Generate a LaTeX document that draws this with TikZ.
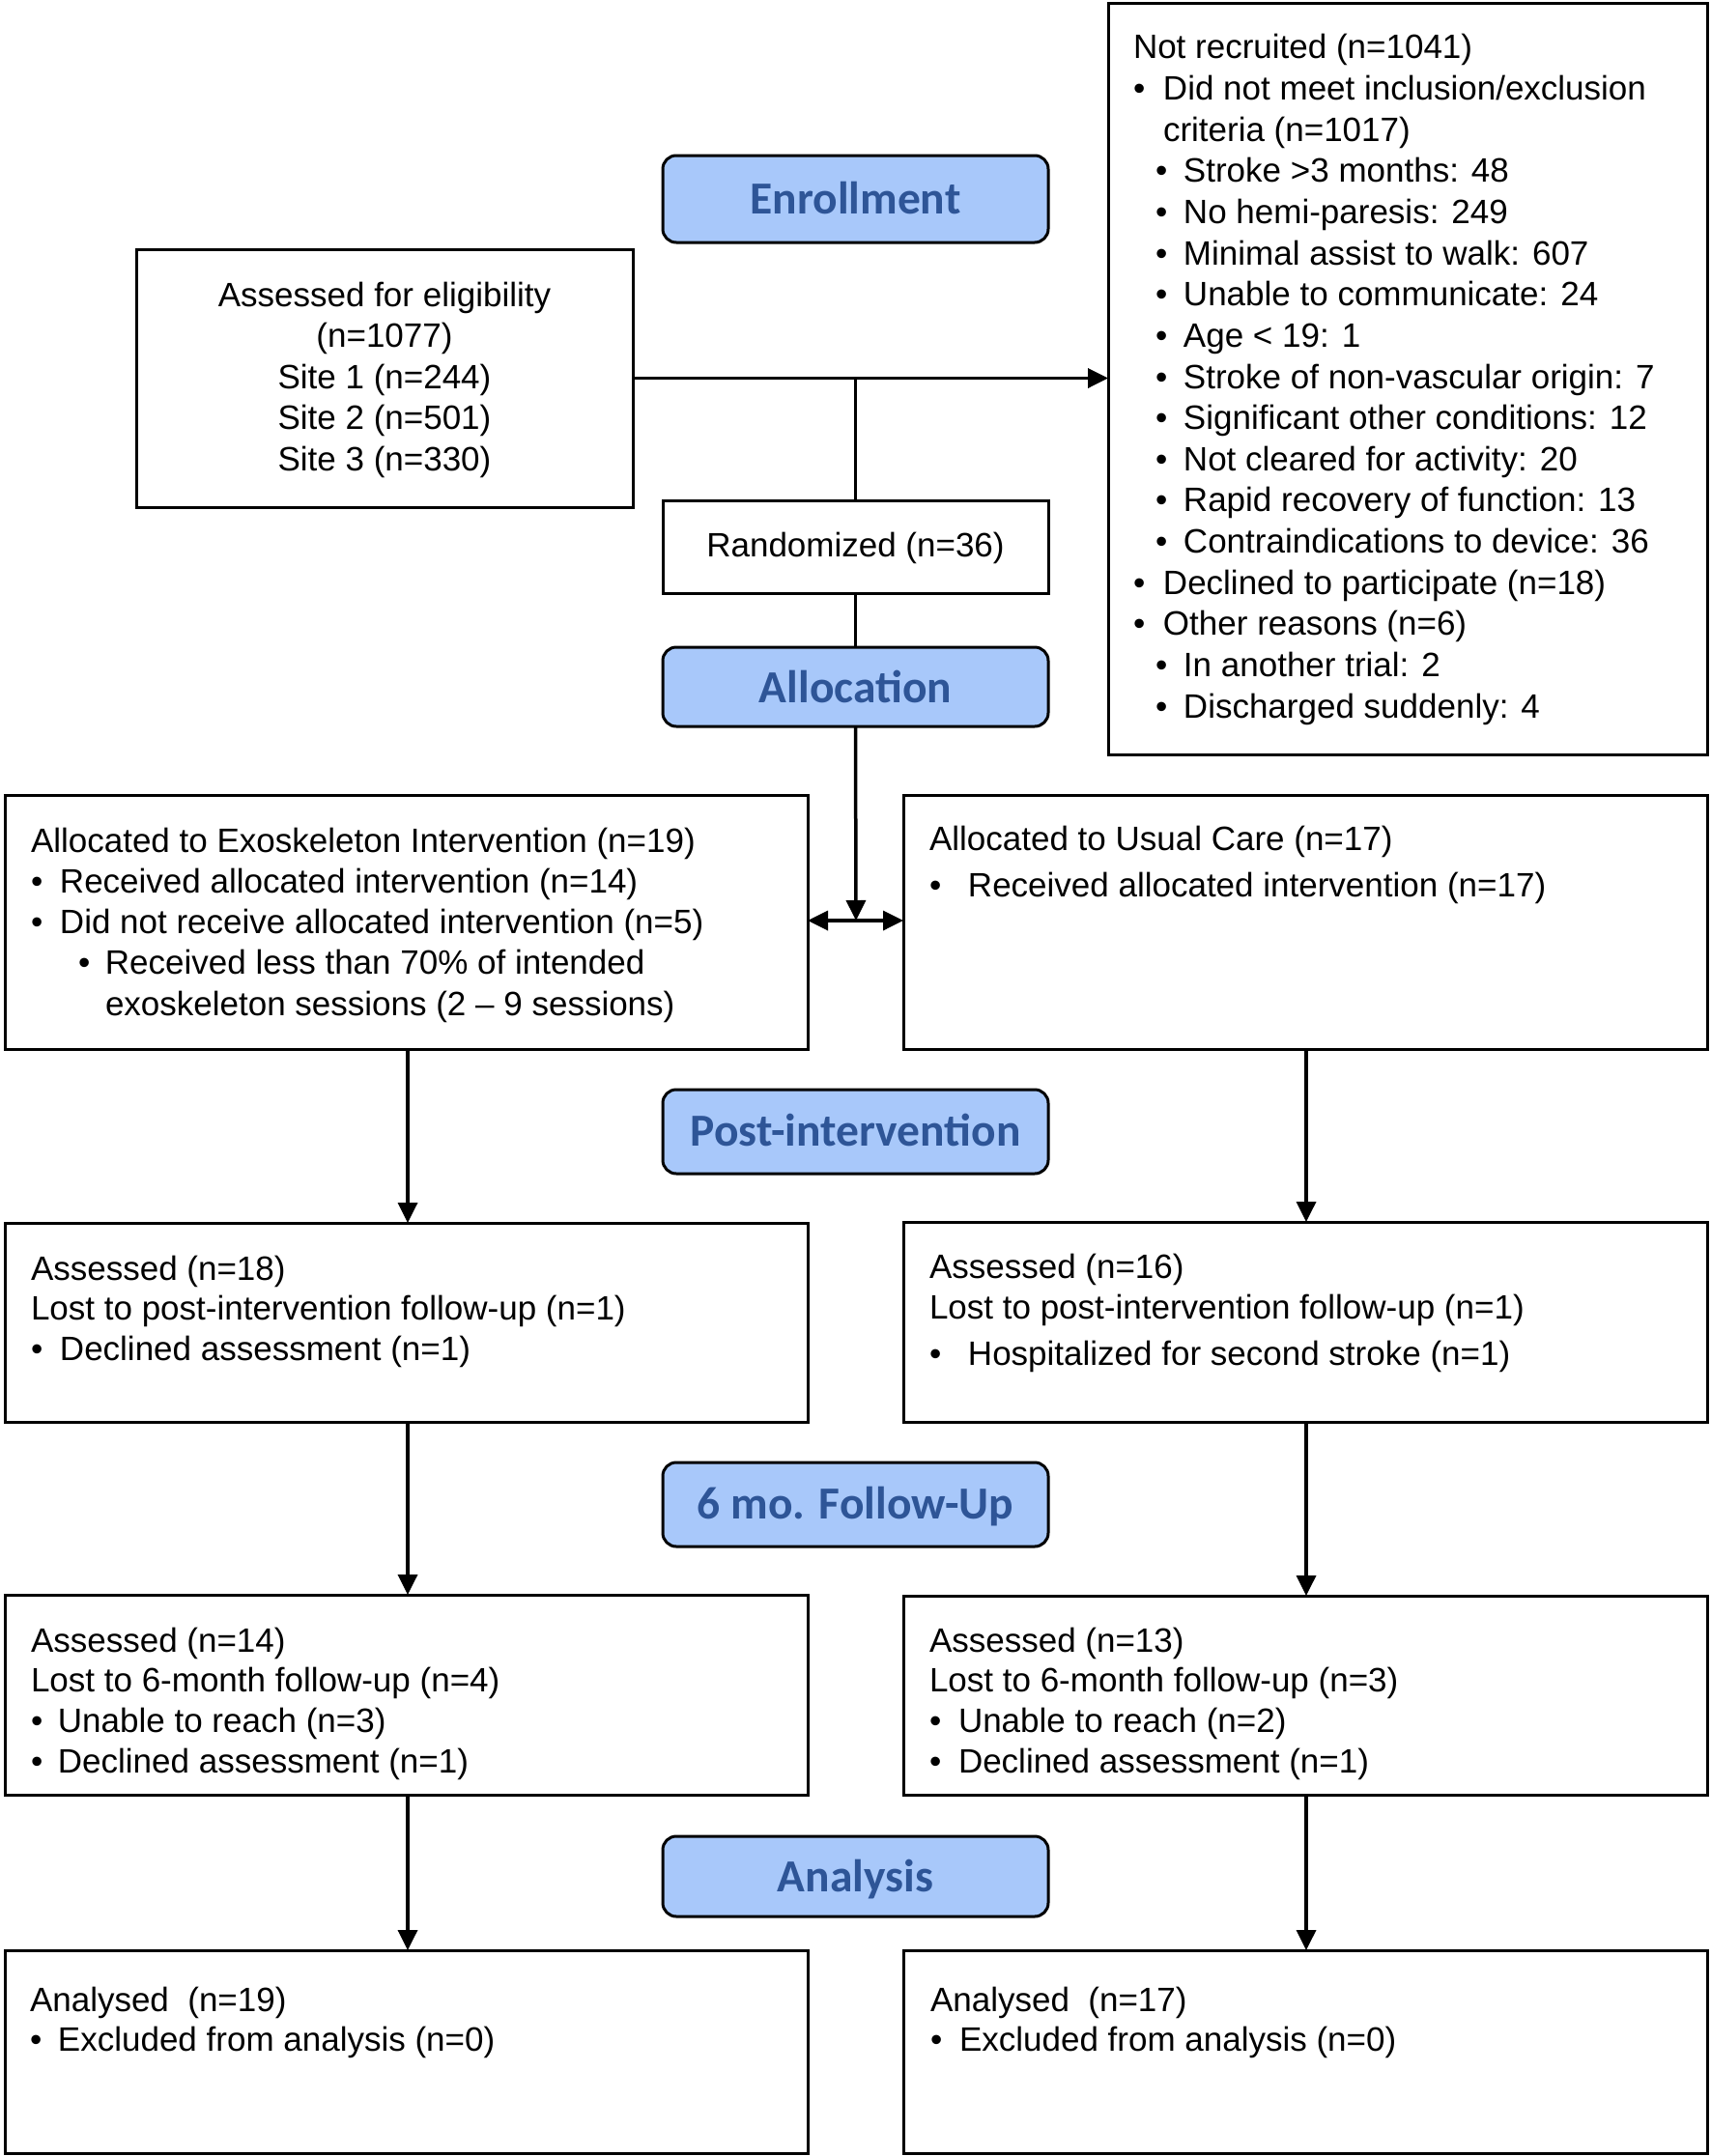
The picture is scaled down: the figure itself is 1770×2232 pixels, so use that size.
\documentclass[tikz,border=0pt]{standalone}
\usepackage{fontspec}
\setmainfont{Liberation Sans}
\newfontfamily\hdrfont{Carlito}
\usetikzlibrary{arrows.meta,fit}
\definecolor{hdrfill}{HTML}{A8C8FA}
\definecolor{hdrtext}{HTML}{2E5597}
% bullet line: #1 bullet offset, #2 text offset, #3 text
\newcommand{\bu}[3]{\makebox[#2][l]{\hspace*{#1}•}#3}
% text block: #1 baselineskip, #2 content
\newcommand{\tblock}[2]{\parbox[t]{820pt}{\fontsize{35}{#1}\selectfont #2}}
\begin{document}
\begin{tikzpicture}[x=1pt,y=-1pt,
  box/.style={draw=black, line width=3pt, inner sep=0pt, outer sep=0pt},
  hdr/.style={draw=black, line width=3pt, fill=hdrfill, rounded corners=14pt,
    inner sep=0pt, outer sep=0pt},
  hdrtxt/.style={inner sep=0pt, outer sep=0pt, anchor=base, text=hdrtext,
    font=\hdrfont\bfseries\fontsize{47.5}{50}\selectfont},
  txt/.style={inner sep=0pt, outer sep=0pt, anchor=base west},
  ctxt/.style={inner sep=0pt, outer sep=0pt, anchor=base},
  conn/.style={line width=3.5pt},
  arrowend/.style={-{Triangle[length=21pt,width=20pt]}},
  arrowboth/.style={{Triangle[length=21pt,width=20pt]}-{Triangle[length=21pt,width=20pt]}}]
\useasboundingbox (0,0) rectangle (1770,2232);
\fill[white] (0,0) rectangle (1770,2232);

% ---------- boxes ----------
\node[box, fit={(1147,4) (1767,781)}] (notrec) {};
\node[box, fit={(141,258) (655,525)}] (elig) {};
\node[box, fit={(686,518) (1085,614)}] (rand) {};
\node[box, fit={(5,823) (836,1086)}] (la) {};
\node[box, fit={(935,823) (1767,1086)}] (ra) {};
\node[box, fit={(5,1266) (836,1472)}] (lpa) {};
\node[box, fit={(935,1265) (1767,1472)}] (rpa) {};
\node[box, fit={(5,1651) (836,1858)}] (lsix) {};
\node[box, fit={(935,1652) (1767,1858)}] (rsix) {};
\node[box, fit={(5,2019) (836,2229)}] (lan) {};
\node[box, fit={(935,2019) (1767,2229)}] (ran) {};

% ---------- headers ----------
\node[hdr, fit={(686,161) (1085,251)}] (hEnroll) {};
\node[hdr, fit={(686,670) (1085,752)}] (hAlloc) {};
\node[hdr, fit={(686,1128) (1085,1215)}] (hPost) {};
\node[hdr, fit={(686,1514) (1085,1601)}] (hSix) {};
\node[hdr, fit={(686,1901) (1085,1984)}] (hAna) {};
\node[hdrtxt] (hEnroll-t) at ([yshift=-15pt]hEnroll.center) {Enrollment};
\node[hdrtxt] (hAlloc-t) at ([yshift=-16pt]hAlloc.center) {Allocation};
\node[hdrtxt] (hPost-t) at ([yshift=-15pt]hPost.center) {Post-intervention};
\node[hdrtxt] (hSix-t) at ([yshift=-15pt]hSix.center) {6 mo. Follow-Up};
\node[hdrtxt] (hAna-t) at ([yshift=-16pt]hAna.center) {Analysis};

% ---------- texts ----------
\node[txt] (notrec-t) at (1173,61) {\tblock{42.63pt}{%
Not recruited (n=1041)\\
\bu{0pt}{31pt}{Did not meet inclusion/exclusion}\\
\hspace*{31pt}criteria (n=1017)\\
\bu{23pt}{52pt}{Stroke >3 months: 48}\\
\bu{23pt}{52pt}{No hemi-paresis: 249}\\
\bu{23pt}{52pt}{Minimal assist to walk: 607}\\
\bu{23pt}{52pt}{Unable to communicate: 24}\\
\bu{23pt}{52pt}{Age < 19: 1}\\
\bu{23pt}{52pt}{Stroke of non-vascular origin: 7}\\
\bu{23pt}{52pt}{Significant other conditions: 12}\\
\bu{23pt}{52pt}{Not cleared for activity: 20}\\
\bu{23pt}{52pt}{Rapid recovery of function: 13}\\
\bu{23pt}{52pt}{Contraindications to device: 36}\\
\bu{0pt}{31pt}{Declined to participate (n=18)}\\
\bu{0pt}{31pt}{Other reasons (n=6)}\\
\bu{23pt}{52pt}{In another trial: 2}\\
\bu{23pt}{52pt}{Discharged suddenly: 4}}};

\node[ctxt] (elig-t) at (398,317) {\parbox[t]{500pt}{\centering\fontsize{35}{42.6pt}\selectfont
Assessed for eligibility\\ (n=1077)\\ Site 1 (n=244)\\ Site 2 (n=501)\\ Site 3 (n=330)}};

\node[ctxt, font=\fontsize{35}{42.6}\selectfont] (rand-t) at (885.5,576) {Randomized (n=36)};

\node[txt] (la-t) at (32,882) {\tblock{42.3pt}{%
Allocated to Exoskeleton Intervention (n=19)\\
\bu{0pt}{30pt}{Received allocated intervention (n=14)}\\
\bu{0pt}{30pt}{Did not receive allocated intervention (n=5)}\\
\bu{49pt}{77pt}{Received less than 70\% of intended}\\
\hspace*{77pt}exoskeleton sessions (2 – 9 sessions)}};

\node[txt] (ra-t) at (962,880) {\tblock{48pt}{%
Allocated to Usual Care (n=17)\\
\bu{0pt}{40pt}{Received allocated intervention (n=17)}}};

\node[txt] (lpa-t) at (32,1325) {\tblock{41.6pt}{%
Assessed (n=18)\\
Lost to post-intervention follow-up (n=1)\\
\bu{0pt}{30pt}{Declined assessment (n=1)}}};

\node[txt] (rpa-t) at (962,1323) {\tblock{42pt}{%
Assessed (n=16)\\
Lost to post-intervention follow-up (n=1)\\[6pt]
\bu{0pt}{40pt}{Hospitalized for second stroke (n=1)}}};

\node[txt] (lsix-t) at (32,1710) {\tblock{41.7pt}{%
Assessed (n=14)\\
Lost to 6-month follow-up (n=4)\\
\bu{0pt}{28pt}{Unable to reach (n=3)}\\
\bu{0pt}{28pt}{Declined assessment (n=1)}}};

\node[txt] (rsix-t) at (962,1710) {\tblock{41.7pt}{%
Assessed (n=13)\\
Lost to 6-month follow-up (n=3)\\
\bu{0pt}{30pt}{Unable to reach (n=2)}\\
\bu{0pt}{30pt}{Declined assessment (n=1)}}};

\node[txt] (lan-t) at (31,2082) {\tblock{41.7pt}{%
Analysed\ \ (n=19)\\
\bu{0pt}{29pt}{Excluded from analysis (n=0)}}};

\node[txt] (ran-t) at (963,2082) {\tblock{41.7pt}{%
Analysed\ \ (n=17)\\
\bu{0pt}{30pt}{Excluded from analysis (n=0)}}};

% ---------- connectors ----------
\coordinate (j) at (886,953);
\coordinate (cl) at (422,0);
\coordinate (cr) at (1352,0);

\draw[conn, arrowend] (elig.east) -- (notrec.west |- elig.east);
\draw[conn] (rand.north) -- (rand.north |- elig.east);
\draw[conn] (rand.south) -- (hAlloc.north);
\draw[conn, arrowend] (hAlloc.south) -- (j);
\draw[conn, arrowboth] (la.east |- j) -- (ra.west |- j);

\draw[conn, arrowend] (la.south -| cl) -- (lpa.north -| cl);
\draw[conn, arrowend] (lpa.south -| cl) -- (lsix.north -| cl);
\draw[conn, arrowend] (lsix.south -| cl) -- (lan.north -| cl);
\draw[conn, arrowend] (ra.south -| cr) -- (rpa.north -| cr);
\draw[conn, arrowend] (rpa.south -| cr) -- (rsix.north -| cr);
\draw[conn, arrowend] (rsix.south -| cr) -- (ran.north -| cr);
\end{tikzpicture}
\end{document}
